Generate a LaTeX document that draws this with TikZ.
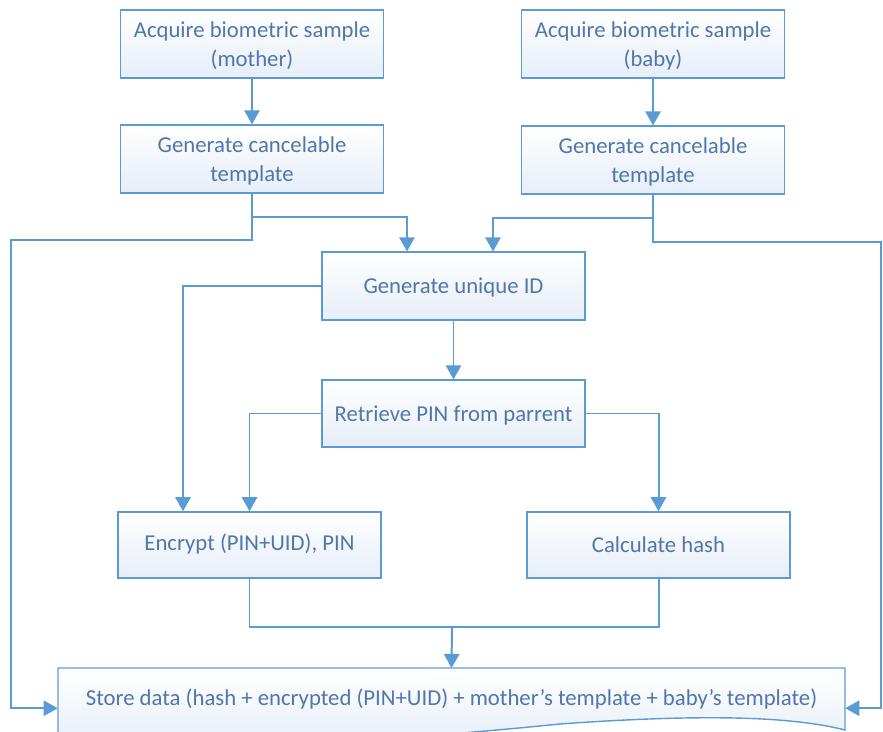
\documentclass[tikz,border=0pt]{standalone}
\usepackage{fontspec}
\setmainfont{Carlito}
\usetikzlibrary{arrows.meta,calc}
\definecolor{flowline}{RGB}{91,155,213}
\definecolor{flowtext}{RGB}{80,118,170}
\definecolor{flowfill}{RGB}{230,238,248}
\tikzset{
  stepbox/.style={draw=flowline,line width=1.2pt,top color=white,bottom color=flowfill,text=flowtext,
    minimum width=7.9cm,minimum height=2.03cm,align=center,inner sep=0pt,text depth=0pt,
    font=\fontsize{19.4}{24.5}\selectfont},
  link/.style={draw=flowline,line width=1.7pt},
  flow/.style={link,-{Triangle[width=13pt,length=12pt]}}
}
\begin{document}
\begin{tikzpicture}[x=0.03cm,y=-0.03cm]
            \useasboundingbox (0,0) rectangle (883,732);
            \node[stepbox] (mothersample) at (252,44) {Acquire biometric sample\\(mother)};
            \node[stepbox] (babysample) at (653,44) {Acquire biometric sample\\(baby)};
            \node[stepbox] (mothertpl) at (252,159) {Generate cancelable\\template};
            \node[stepbox] (babytpl) at (653,160) {Generate cancelable\\template};
            \node[stepbox] (uid) at (453.5,286) {Generate unique ID};
            \node[stepbox,minimum height=2cm] (pin) at (453.5,413.5) {Retrieve PIN from parrent};
            \node[stepbox,minimum height=1.98cm,text depth=4.5pt] (encrypt) at (249.5,545) {Encrypt (PIN+UID), PIN};
            \node[stepbox,minimum height=1.98cm] (hash) at (658.5,545) {Calculate hash};
            \path[draw=flowline,line width=1.2pt,top color=white,bottom color=flowfill]
                (58,668) -- (845,668) -- (845,730)
                .. controls (790,716) and (700,714) .. (560,724)
                .. controls (450,735) and (300,748) .. (58,748) -- cycle;
            \node[text=flowtext,font=\fontsize{19.4}{24.5}\selectfont,minimum width=23.61cm,
                minimum height=1.74cm,inner sep=0pt,text depth=0pt,anchor=north] (store) at (451.5,668)
                {Store data (hash + encrypted (PIN+UID) + mother’s template + baby’s template)};
            \coordinate (storeleft) at ([yshift=-0.33cm]store.west);
            \coordinate (storeright) at ([yshift=-0.33cm]store.east);
            \coordinate (motherjoin) at (252,217);
            \coordinate (babyjoin) at (653,218);
            \coordinate (mergejoin) at (452,627);
            \draw[flow] (mothersample) -- (mothertpl);
            \draw[flow] (babysample) -- (babytpl);
            \draw[flow] (mothertpl.south) |- (11,240) |- (storeleft);
            \draw[flow] (babytpl.south) |- (881,242) |- (storeright);
            \draw[flow] (motherjoin) -| ([xshift=-1.395cm]uid.north);
            \draw[flow] (babyjoin) -| ([xshift=1.185cm]uid.north);
            \draw[flow] (uid.west) -| ([xshift=-1.995cm]encrypt.north);
            \draw[flow] (uid) -- (pin);
            \draw[flow] (pin.west) -| (encrypt.north);
            \draw[flow] (pin.east) -| (hash.north);
            \draw[link] (encrypt.south) |- (mergejoin) -| (hash.south);
            \draw[flow] (mergejoin) -- (store.north);
\end{tikzpicture}
\end{document}
